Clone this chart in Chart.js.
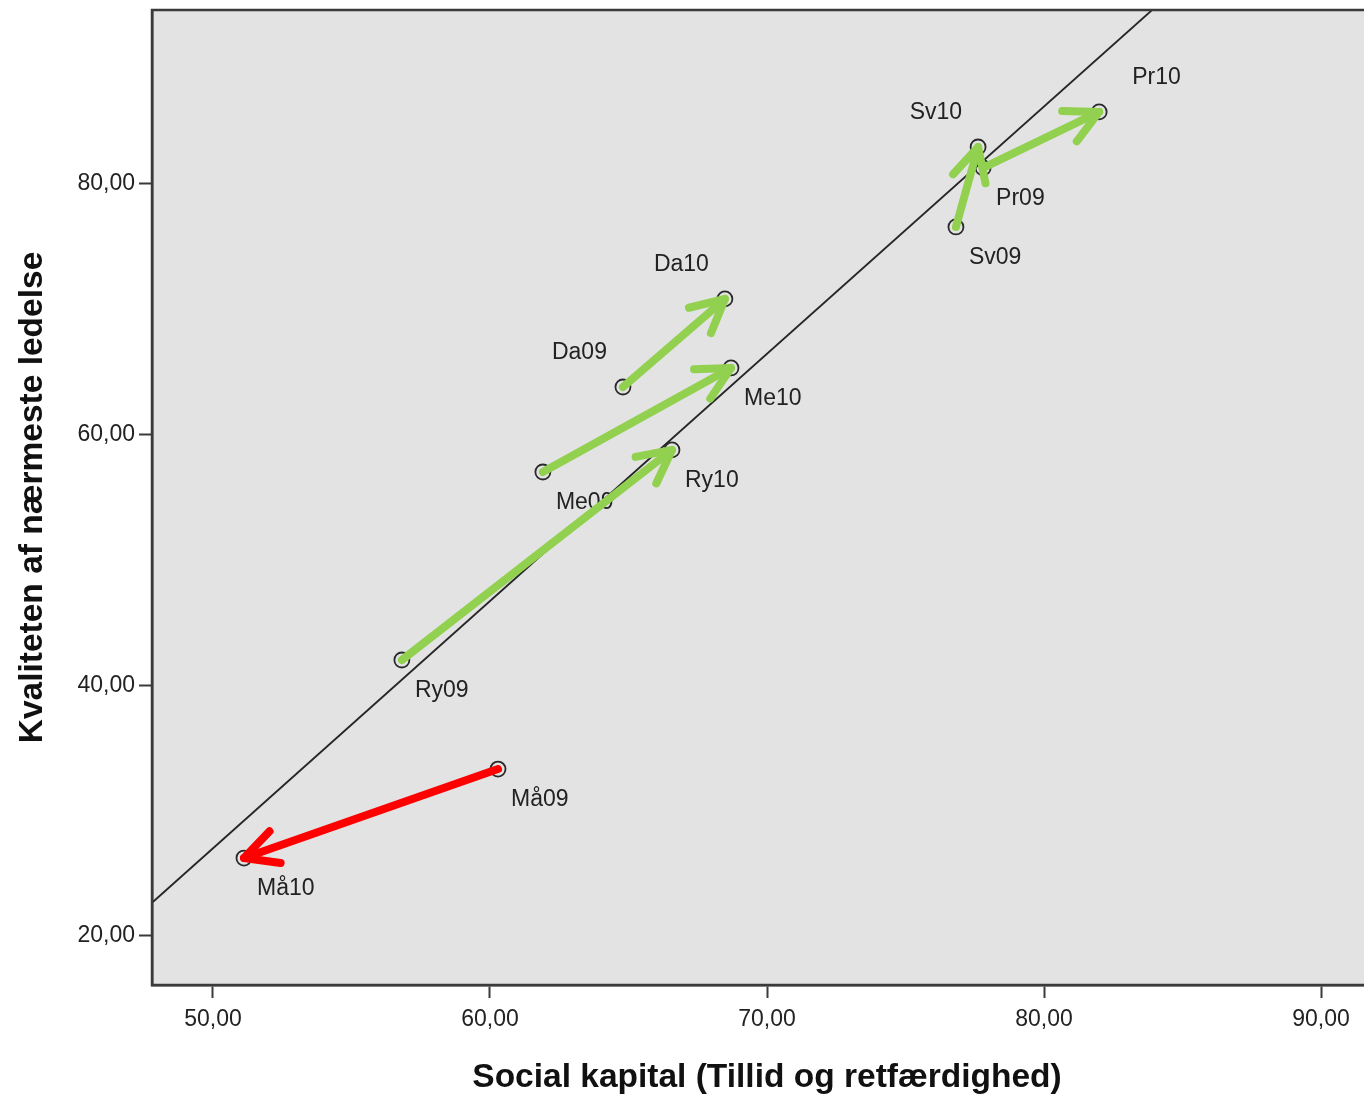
<!DOCTYPE html>
<html>
<head>
<meta charset="utf-8">
<script src="https://cdn.jsdelivr.net/npm/chart.js@4/dist/chart.umd.min.js"></script>
<style>
  html, body { margin: 0; padding: 0; background: #ffffff; overflow: hidden; }
  #wrap { width: 1364px; height: 1095px; }
</style>
</head>
<body>
<div id="wrap"><canvas id="c" width="1364" height="1095"></canvas></div>
<script>
// ---- Data ----
const pointLabels = ['Må10', 'Må09', 'Ry09', 'Ry10', 'Me09', 'Me10', 'Da09', 'Da10', 'Sv09', 'Sv10', 'Pr09', 'Pr10'];
const socialKapital = [51.12, 60.29, 56.82, 66.57, 61.91, 68.70, 64.80, 68.48, 76.82, 77.62, 77.80, 81.99];
const ledelse      = [26.22, 33.32, 42.02, 58.78, 57.02, 65.32, 63.80, 70.83, 76.57, 82.95, 81.28, 85.75];
// label placement relative to each point: br = below-right, tl = above-left, tr = above-right
const labelPlacement = ['br', 'br', 'br', 'br', 'br', 'br', 'tl', 'tl', 'br', 'tl', 'br', 'tr'];

// change arrows (from 2009 to 2010), by label
const arrowFrom  = ['Da09', 'Me09', 'Ry09', 'Sv09', 'Pr09', 'Må09'];
const arrowTo    = ['Da10', 'Me10', 'Ry10', 'Sv10', 'Pr10', 'Må10'];
const arrowKind  = ['up', 'up', 'up', 'up', 'up', 'down'];

// fit line (two end points, as drawn)
const fitX = [47.83, 83.90];
const fitY = [22.71, 93.88];

// axes
const xMin = 47.8, xMax = 91.55;
const yMin = 16.09, yMax = 93.88;
const xTicks = [50, 60, 70, 80, 90];
const xTickLabels = ['50,00', '60,00', '70,00', '80,00', '90,00'];
const yTicks = [20, 40, 60, 80];
const yTickLabels = ['20,00', '40,00', '60,00', '80,00'];
const xTitle = 'Social kapital (Tillid og retfærdighed)';
const yTitle = 'Kvaliteten af nærmeste ledelse';

// ---- styles ----
const FONT = '"Liberation Sans", Arial, sans-serif';
const TEXT = '#222222';
const FRAME = '#3a3a3a';
const PLOT_BG = '#e3e3e3';
const ARROW_COLORS = { up: '#92d050', down: '#ff0000' };

const pts = socialKapital.map((x, i) => ({ x, y: ledelse[i] }));
const fitPts = fitX.map((x, i) => ({ x, y: fitY[i] }));

const bgPlugin = {
  id: 'plotBg',
  beforeDraw(chart) {
    const { ctx, chartArea: a } = chart;
    ctx.save();
    ctx.fillStyle = PLOT_BG;
    ctx.fillRect(a.left, a.top, a.right - a.left, a.bottom - a.top);
    ctx.restore();
  }
};

const labelPlugin = {
  id: 'pointLabels',
  afterDatasetsDraw(chart) {
    const { ctx } = chart;
    const xs = chart.scales.x, ys = chart.scales.y;
    ctx.save();
    ctx.font = '23px ' + FONT;
    ctx.fillStyle = TEXT;
    ctx.textBaseline = 'middle';
    pointLabels.forEach((lab, i) => {
      const px = xs.getPixelForValue(socialKapital[i]);
      const py = ys.getPixelForValue(ledelse[i]);
      const p = labelPlacement[i];
      if (p === 'br') { ctx.textAlign = 'left'; ctx.fillText(lab, px + 13, py + 31); }
      else if (p === 'tl') { ctx.textAlign = 'right'; ctx.fillText(lab, px - 16, py - 34); }
      else { ctx.textAlign = 'left'; ctx.fillText(lab, px + 33, py - 34); }
    });
    ctx.restore();
  }
};

const arrowPlugin = {
  id: 'arrows',
  afterDatasetsDraw(chart) {
    const { ctx } = chart;
    const xs = chart.scales.x, ys = chart.scales.y;
    ctx.save();
    ctx.lineWidth = 8;
    ctx.lineCap = 'round';
    ctx.lineJoin = 'round';
    arrowFrom.forEach((f, k) => {
      const i = pointLabels.indexOf(f), j = pointLabels.indexOf(arrowTo[k]);
      const x0 = xs.getPixelForValue(socialKapital[i]), y0 = ys.getPixelForValue(ledelse[i]);
      const x1 = xs.getPixelForValue(socialKapital[j]), y1 = ys.getPixelForValue(ledelse[j]);
      const ang = Math.atan2(y0 - y1, x0 - x1);
      const L = 37, spread = 27 * Math.PI / 180;
      ctx.strokeStyle = ARROW_COLORS[arrowKind[k]];
      ctx.beginPath();
      ctx.moveTo(x0, y0);
      ctx.lineTo(x1, y1);
      ctx.stroke();
      ctx.beginPath();
      ctx.moveTo(x1 + L * Math.cos(ang + spread), y1 + L * Math.sin(ang + spread));
      ctx.lineTo(x1, y1);
      ctx.lineTo(x1 + L * Math.cos(ang - spread), y1 + L * Math.sin(ang - spread));
      ctx.stroke();
    });
    ctx.restore();
  }
};

// plot frame (top/left/bottom; right edge runs off the picture) and axis titles
const framePlugin = {
  id: 'frame',
  afterDraw(chart) {
    const { ctx, chartArea: a } = chart;
    ctx.save();
    ctx.strokeStyle = FRAME;
    ctx.lineWidth = 2.5;
    ctx.beginPath();
    ctx.moveTo(a.right + 5, a.top);
    ctx.lineTo(a.left, a.top);
    ctx.lineTo(a.left, a.bottom);
    ctx.lineTo(a.right + 5, a.bottom);
    ctx.stroke();

    ctx.fillStyle = '#111111';
    ctx.font = 'bold 33.5px ' + FONT;
    ctx.textAlign = 'center';
    ctx.textBaseline = 'alphabetic';
    ctx.fillText(xTitle, chart.scales.x.getPixelForValue(70), 1087);
    ctx.translate(42, (a.top + a.bottom) / 2);
    ctx.rotate(-Math.PI / 2);
    ctx.fillText(yTitle, 0, 0);
    ctx.restore();
  }
};

new Chart(document.getElementById('c'), {
  type: 'scatter',
  data: {
    datasets: [
      {
        type: 'line',
        label: 'fit',
        data: fitPts,
        borderColor: '#262626',
        borderWidth: 1.8,
        pointRadius: 0,
        fill: false,
        tension: 0,
        order: 2
      },
      {
        label: 'points',
        data: pts,
        pointStyle: 'circle',
        pointRadius: 7.5,
        pointBorderWidth: 1.8,
        borderColor: '#2a2a2a',
        backgroundColor: 'rgba(0,0,0,0)',
        pointHoverRadius: 7.5,
        order: 1
      }
    ]
  },
  options: {
    responsive: false,
    animation: false,
    devicePixelRatio: 1,
    layout: { autoPadding: false, padding: { left: 0, right: 0, top: 10, bottom: 0 } },
    plugins: { legend: { display: false }, tooltip: { enabled: false } },
    scales: {
      x: {
        type: 'linear',
        min: xMin, max: xMax,
        afterBuildTicks(s) { s.ticks = xTicks.map(v => ({ value: v })); },
        afterFit(s) { s.height = 110; s.paddingLeft = 0; s.paddingRight = 0; },
        ticks: {
          callback: (v) => xTickLabels[xTicks.indexOf(v)] ?? '',
          font: { family: FONT, size: 23 },
          color: TEXT,
          padding: 8,
          maxRotation: 0,
          autoSkip: false
        },
        grid: { drawOnChartArea: false, drawTicks: true, tickLength: 13, tickWidth: 2, tickColor: FRAME },
        border: { display: true, color: FRAME, width: 2.5 },
        title: { display: false }
      },
      y: {
        type: 'linear',
        min: yMin, max: yMax,
        afterBuildTicks(s) { s.ticks = yTicks.map(v => ({ value: v })); },
        afterFit(s) { s.width = 152; s.paddingTop = 0; s.paddingBottom = 0; },
        ticks: {
          callback: (v) => yTickLabels[yTicks.indexOf(v)] ?? '',
          font: { family: FONT, size: 23 },
          color: TEXT,
          padding: 4,
          autoSkip: false
        },
        grid: { drawOnChartArea: false, drawTicks: true, tickLength: 13, tickWidth: 2, tickColor: FRAME },
        border: { display: true, color: FRAME, width: 2.5 },
        title: { display: false }
      }
    }
  },
  plugins: [bgPlugin, labelPlugin, arrowPlugin, framePlugin]
});
</script>
</body>
</html>
